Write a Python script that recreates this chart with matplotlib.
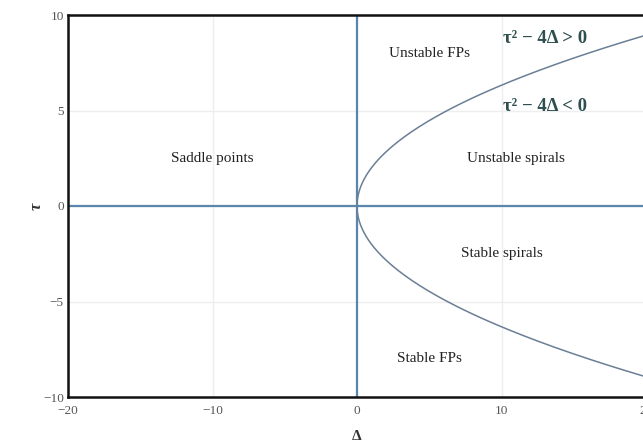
import numpy as np
import matplotlib.pyplot as plt

plt.rcParams['font.family'] = ['Liberation Serif', 'DejaVu Serif']

# trace-determinant plane
tau = np.linspace(-10, 10, 401)
delta = tau ** 2 / 4

region_labels = ['Unstable FPs', 'Saddle points', 'Unstable spirals', 'Stable spirals', 'Stable FPs']
region_x = [5, -10, 11, 10, 5]
region_y = [8, 2.5, 2.5, -2.5, -8]

disc_labels = ['τ² − 4Δ > 0', 'τ² − 4Δ < 0']
disc_x = [13, 13]
disc_y = [8.75, 5.2]

fig = plt.figure(figsize=(6.43, 4.43), dpi=100)
ax = fig.add_axes([68 / 643, 1 - 397 / 443, 578 / 643, 382 / 443])
ax.set_xlim(-20, 20)
ax.set_ylim(-10, 10)

ax.set_xticks([-20, -10, 0, 10, 20])
ax.set_yticks([-10, -5, 0, 5, 10])
ax.set_xticklabels(['−20', '−10', '0', '10', '20'])
ax.set_yticklabels(['−10', '−5', '0', '5', '10'])
ax.tick_params(length=0, labelsize=9.5, labelcolor='#555555', pad=3)
ax.tick_params(axis='x', pad=6)
ax.grid(True, color='#eeeeee', lw=1)
ax.set_axisbelow(True)

for s in ax.spines.values():
    s.set_linewidth(1.8)
    s.set_color('#111111')

ax.axvline(0, color='#5a86ad', lw=1.6, zorder=2)
ax.axhline(0, color='#5a86ad', lw=1.6, zorder=2)
ax.plot(delta, tau, color='#6a7f95', lw=1.1, zorder=3)

for t, x, y in zip(region_labels, region_x, region_y):
    ax.text(x, y, t, ha='center', va='center', fontsize=11, color='#222222')

for t, x, y in zip(disc_labels, disc_x, disc_y):
    ax.text(x, y, t, ha='center', va='center', fontsize=13.5, fontweight='bold',
            color='#2f4f4f')

ax.set_xlabel('Δ', fontsize=11, fontweight='bold', color='#333333', labelpad=9)
ax.set_ylabel('τ', fontsize=12, fontweight='bold', style='italic', color='#333333', labelpad=-1)

fig.savefig('out.png', dpi=100)
